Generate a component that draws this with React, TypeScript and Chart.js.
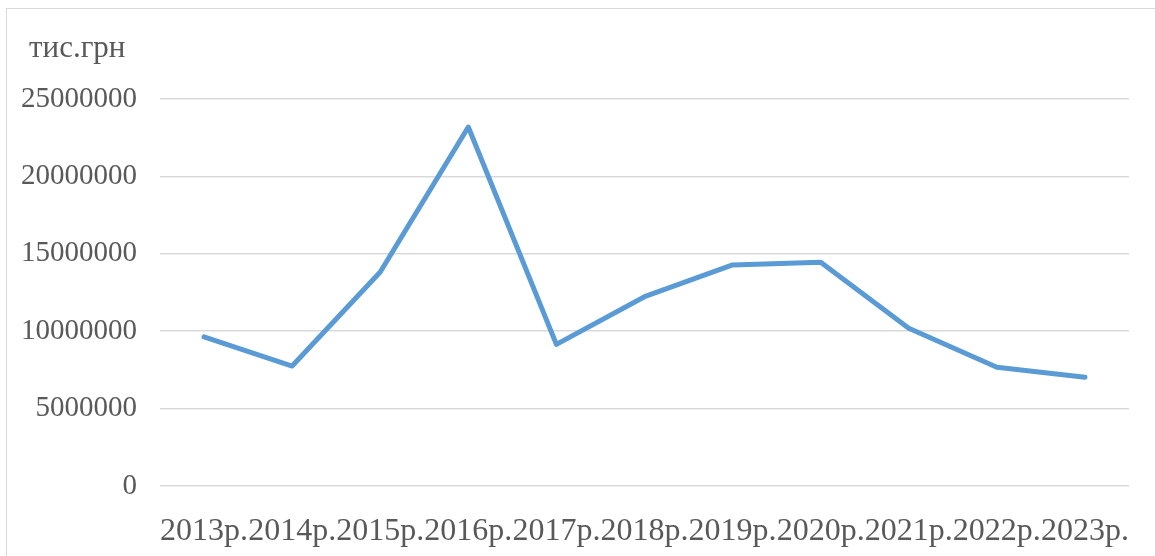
import React, { useEffect, useRef } from "react";
import { Chart, registerables } from "chart.js";

Chart.register(...registerables);

const categories = ["2013р.", "2014р.", "2015р.", "2016р.", "2017р.", "2018р.", "2019р.", "2020р.", "2021р.", "2022р.", "2023р."];
const values = [9630000, 7750000, 13820000, 23190000, 9150000, 12230000, 14280000, 14450000, 10190000, 7670000, 7020000];
const yTicks = [0, 5000000, 10000000, 15000000, 20000000, 25000000];
const unitLabel = "тис.грн";

const FONT = "'Liberation Serif', 'Times New Roman', serif";
const TEXT = "#595959";

const unitPlugin = {
  id: "unitLabel",
  afterDraw(chart: any) {
    const ctx = chart.ctx;
    ctx.save();
    ctx.font = `31px ${FONT}`;
    ctx.fillStyle = TEXT;
    ctx.textAlign = "left";
    ctx.textBaseline = "alphabetic";
    ctx.fillText(unitLabel, 29, 57);
    ctx.restore();
  },
};

export default function App() {
  const ref = useRef<HTMLCanvasElement | null>(null);
  useEffect(() => {
    if (!ref.current) return;
    const chart = new Chart(ref.current, {
      type: "line",
      data: {
        labels: categories,
        datasets: [
          {
            data: values,
            borderColor: "#5B9BD5",
            borderWidth: 5,
            tension: 0,
            pointRadius: 0,
            borderCapStyle: "round",
            borderJoinStyle: "round",
            fill: false,
          },
        ],
      },
      options: {
        animation: false,
        responsive: true,
        maintainAspectRatio: false,
        layout: { padding: { top: 99, right: 26, bottom: 0, left: 0 } },
        plugins: { legend: { display: false }, tooltip: { enabled: false } },
        scales: {
          x: {
            offset: true,
            grid: { display: false },
            border: { display: false },
            ticks: {
              autoSkip: false,
              maxRotation: 0,
              minRotation: 0,
              color: TEXT,
              font: { family: FONT, size: 32 },
              padding: 18,
            },
            afterFit: (s: any) => {
              s.height = 70;
            },
          },
          y: {
            min: 0,
            max: 25000000,
            afterBuildTicks: (s: any) => {
              s.ticks = yTicks.map((v) => ({ value: v }));
            },
            grid: { color: "#d9d9d9", lineWidth: 1.5, drawTicks: false },
            border: { display: false },
            ticks: {
              color: TEXT,
              font: { family: FONT, size: 29 },
              padding: 23,
              callback: (v: any) => String(v),
            },
            afterFit: (s: any) => {
              s.width = 160;
            },
          },
        },
      },
      plugins: [unitPlugin],
    });
    return () => chart.destroy();
  }, []);
  return (
    <div style={{ position: "fixed", left: 0, top: 0, width: 1155, height: 556, background: "#fff", overflow: "hidden" }}>
      <div
        style={{
          position: "absolute",
          left: 6,
          top: 8,
          width: 1200,
          height: 600,
          border: "1.5px solid #d9d9d9",
          boxSizing: "border-box",
        }}
      />
      <div style={{ position: "absolute", left: 0, top: 0, width: 1155, height: 556 }}>
        <canvas ref={ref} />
      </div>
    </div>
  );
}
